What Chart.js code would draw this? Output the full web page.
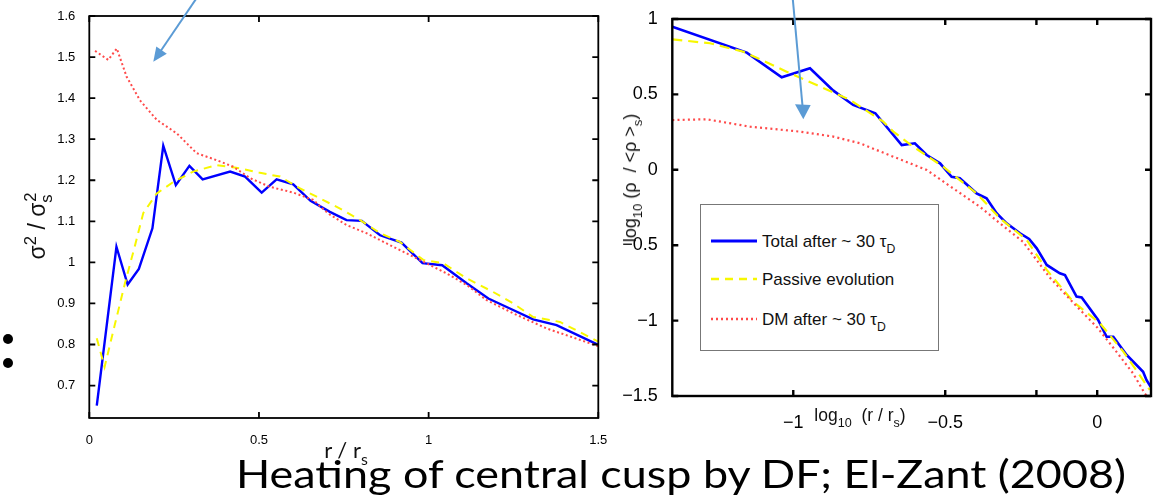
<!DOCTYPE html>
<html>
<head>
<meta charset="utf-8">
<script src="https://cdn.jsdelivr.net/npm/chart.js@4.4.0/dist/chart.umd.min.js"></script>
<style>
  body { margin: 0; width: 1165px; height: 498px; overflow: hidden; position: relative; background: #fff; font-family: "Liberation Sans", Arial, sans-serif; color: #111; }
  canvas { position: absolute; top: 0; }
  .abs { position: absolute; white-space: nowrap; line-height: 1; }
  .sub { font-size: 0.72em; position: relative; top: 0.45em; }
  .sup { font-size: 0.72em; position: relative; top: -0.55em; }
  .rot { transform: translate(-50%, -50%) rotate(-90deg); }
  .ctr { transform: translate(-50%, -50%); }
  #legend { position: absolute; left: 700px; top: 204px; width: 237px; height: 145px; border: 1px solid #777; background: #fff; }
  #legend .row { position: absolute; left: 0; font-size: 17px; line-height: 1; }
  #legend svg { position: absolute; left: 9px; }
  #legend .txt { position: absolute; left: 61px; white-space: nowrap; transform: translateY(-50%); }
  .dot { position: absolute; width: 10px; height: 10px; border-radius: 50%; background: #000; }
  #caption { position: absolute; left: 236px; top: 453px; font-family: Lato, "Noto Sans", sans-serif; font-size: 39.5px; line-height: 1; white-space: nowrap; transform-origin: 0 0; color: #000; }
</style>
</head>
<body>
<canvas id="left-chart" width="615" height="460" style="left:0"></canvas>
<canvas id="right-chart" width="560" height="440" style="left:605px"></canvas>

<div class="abs rot" style="left:37px; top:226px; font-size:23px;">σ<span class="sup">2</span> / σ<span class="sub">s</span><span class="sup" style="margin-left:-0.45em">2</span></div>
<div class="abs ctr" style="left:346px; top:450px; font-family:Lato, sans-serif; font-size:22px;">r / r<span class="sub">s</span></div>
<div class="abs rot" style="left:630px; top:178px; font-size:18px;">log<span class="sub">10</span> (ρ&nbsp; / &lt;ρ &gt;<span class="sub">s</span>)</div>
<div class="abs ctr" style="left:860px; top:416px; font-size:17.5px;">log<span class="sub">10</span>&nbsp; (r / r<span class="sub">s</span>)</div>

<div id="legend"></div>

<div class="dot" style="left:3px; top:334px"></div>
<div class="dot" style="left:3px; top:358px"></div>

<svg width="1165" height="498" style="position:absolute;left:0;top:0;pointer-events:none">
  <line x1="196.7" y1="-2" x2="160" y2="52" stroke="#5b9bd5" stroke-width="2"/>
  <polygon points="153.3,61.7 166.8,53.8 156.3,46.4" fill="#5b9bd5"/>
  <line x1="792.7" y1="-2" x2="802.5" y2="106" stroke="#5b9bd5" stroke-width="2"/>
  <polygon points="803.3,119.3 810.7,105 795,104.3" fill="#5b9bd5"/>
</svg>

<div id="caption">Heating of central cusp by DF; El-Zant (2008)</div>

<script>
// left panel: velocity dispersion profile
const leftXTicks = [0, 0.5, 1, 1.5];
const leftYTicks = [0.7, 0.8, 0.9, 1, 1.1, 1.2, 1.3, 1.4, 1.5, 1.6];

const leftTotalR = [0.022, 0.080, 0.113, 0.146, 0.186, 0.218, 0.255, 0.295, 0.334, 0.415, 0.459, 0.508, 0.552, 0.601, 0.652, 0.709, 0.758, 0.803, 0.857, 0.920, 0.982, 1.040, 1.112, 1.176, 1.249, 1.308, 1.377, 1.5];
const leftTotalSig = [0.651, 1.038, 0.946, 0.984, 1.083, 1.284, 1.188, 1.235, 1.202, 1.221, 1.209, 1.170, 1.202, 1.190, 1.150, 1.123, 1.103, 1.101, 1.066, 1.048, 0.998, 0.993, 0.949, 0.912, 0.884, 0.861, 0.847, 0.799];

const leftPassiveR = [0.022, 0.045, 0.076, 0.105, 0.135, 0.159, 0.199, 0.248, 0.306, 0.375, 0.444, 0.503, 0.562, 0.621, 0.670, 0.748, 0.798, 0.857, 0.915, 0.984, 1.043, 1.112, 1.190, 1.249, 1.308, 1.387, 1.5];
const leftPassiveSig = [0.815, 0.745, 0.851, 0.949, 1.042, 1.120, 1.168, 1.196, 1.221, 1.237, 1.229, 1.218, 1.209, 1.180, 1.160, 1.127, 1.103, 1.071, 1.050, 1.006, 0.998, 0.961, 0.928, 0.900, 0.867, 0.855, 0.807];

const leftDmR = [0.017, 0.056, 0.081, 0.110, 0.149, 0.199, 0.258, 0.316, 0.375, 0.424, 0.474, 0.532, 0.601, 0.660, 0.704, 0.758, 0.817, 0.886, 0.974, 1.053, 1.112, 1.171, 1.249, 1.348, 1.5];
const leftDmSig = [1.515, 1.493, 1.521, 1.452, 1.395, 1.347, 1.314, 1.266, 1.249, 1.233, 1.205, 1.184, 1.170, 1.152, 1.119, 1.091, 1.071, 1.042, 1.006, 0.973, 0.945, 0.908, 0.876, 0.839, 0.796];

// right panel: density profile
const rightXTicks = [-1, -0.5, -0.2, 0];
const rightXTickLabels = ['−1', '−0.5', '', '0'];
const rightYTicks = [-1.5, -1, -0.5, 0, 0.5, 1];
const rightYTickLabels = ['−1.5', '−1', '−0.5', '0', '0.5', '1'];

const rightTotalR = [-1.398, -1.153, -1.038, -0.945, -0.868, -0.803, -0.730, -0.698, -0.643, -0.600, -0.561, -0.517, -0.479, -0.452, -0.397, -0.364, -0.331, -0.298, -0.254, -0.224, -0.199, -0.166, -0.123, -0.106, -0.068, -0.051, 0.003, 0.031, 0.053, 0.097, 0.151, 0.162, 0.179];
const rightTotalRho = [0.949, 0.777, 0.613, 0.673, 0.525, 0.430, 0.375, 0.297, 0.164, 0.176, 0.098, 0.043, -0.046, -0.056, -0.156, -0.189, -0.288, -0.355, -0.421, -0.458, -0.521, -0.631, -0.686, -0.698, -0.841, -0.846, -0.996, -1.107, -1.107, -1.228, -1.339, -1.394, -1.449];

const rightPassiveR = [-1.398, -1.274, -1.164, -1.022, -0.923, -0.813, -0.704, -0.671, -0.605, -0.507, -0.397, -0.320, -0.232, -0.166, -0.079, 0.009, 0.086, 0.151, 0.173];
const rightPassiveRho = [0.865, 0.839, 0.783, 0.651, 0.562, 0.463, 0.319, 0.253, 0.153, 0.021, -0.156, -0.322, -0.465, -0.664, -0.875, -1.018, -1.206, -1.394, -1.460];

const rightDmR = [-1.398, -1.285, -1.142, -0.978, -0.868, -0.781, -0.671, -0.561, -0.474, -0.386, -0.320, -0.243, -0.156, -0.068, 0.0, 0.053, 0.118, 0.157, 0.180];
const rightDmRho = [0.330, 0.335, 0.286, 0.253, 0.220, 0.176, 0.087, -0.001, -0.123, -0.245, -0.355, -0.480, -0.715, -0.905, -1.045, -1.180, -1.350, -1.485, -1.540];

const seriesNames = ['Total after ~ 30 τ', 'Passive evolution', 'DM after ~ 30 τ'];
const seriesSubs = ['D', '', 'D'];
const blue = '#0000ff', yellow = '#f7f700', red = '#ff4a4a';

function points(xs, ys) {
    return xs.map((x, i) => ({ x: x, y: ys[i] }));
}

function lineSet(label, xs, ys, color, dash, width) {
    return {
        label: label,
        data: points(xs, ys),
        borderColor: color,
        borderDash: dash,
        borderWidth: width,
        pointRadius: 0,
        fill: false,
        tension: 0
    };
}

// box round the plot plus inward ticks on all four sides, matlab style
const framePlugin = {
    id: 'frame',
    afterDraw(chart, args, opts) {
        const ctx = chart.ctx;
        const a = chart.chartArea;
        const xs = chart.scales.x, ys = chart.scales.y;
        ctx.save();
        ctx.strokeStyle = '#000';
        ctx.lineWidth = opts.width;
        ctx.beginPath();
        xs.ticks.forEach(t => {
            const px = xs.getPixelForValue(t.value);
            ctx.moveTo(px, a.bottom); ctx.lineTo(px, a.bottom - opts.len);
            ctx.moveTo(px, a.top); ctx.lineTo(px, a.top + opts.len);
        });
        ys.ticks.forEach(t => {
            const py = ys.getPixelForValue(t.value);
            ctx.moveTo(a.left, py); ctx.lineTo(a.left + opts.len, py);
            ctx.moveTo(a.right, py); ctx.lineTo(a.right - opts.len, py);
        });
        ctx.stroke();
        ctx.strokeRect(a.left, a.top, a.right - a.left, a.bottom - a.top);
        ctx.restore();
    }
};

function axis(min, max, tickValues, labels, fontSize, pad, size, isX) {
    return {
        type: 'linear',
        min: min,
        max: max,
        grid: { display: false },
        border: { display: false },
        afterBuildTicks: s => { s.ticks = tickValues.map(v => ({ value: v })); },
        afterFit: s => { if (isX) s.height = size; else s.width = size; },
        ticks: {
            autoSkip: false,
            maxRotation: 0,
            padding: pad,
            color: '#000',
            font: { family: 'Liberation Sans', size: fontSize },
            callback: (v, i) => labels ? labels[i] : String(v)
        }
    };
}

Chart.defaults.animation = false;

new Chart(document.getElementById('left-chart'), {
    type: 'line',
    data: {
        datasets: [
            lineSet('DM', leftDmR, leftDmSig, red, [2, 2.6], 2),
            lineSet('Passive', leftPassiveR, leftPassiveSig, yellow, [8, 6], 2),
            lineSet('Total', leftTotalR, leftTotalSig, blue, [], 2.4)
        ]
    },
    options: {
        responsive: false,
        devicePixelRatio: 1,
        layout: { padding: { top: 16, right: 16.7, bottom: 0, left: 0 } },
        plugins: { legend: { display: false }, tooltip: { enabled: false }, frame: { width: 1.8, len: 6 } },
        scales: {
            x: axis(0, 1.5, leftXTicks, null, 13, 7, 42, true),
            y: axis(0.621, 1.6, leftYTicks, null, 13, 6, 89.3, false)
        }
    },
    plugins: [framePlugin]
});

new Chart(document.getElementById('right-chart'), {
    type: 'line',
    data: {
        datasets: [
            lineSet('DM', rightDmR, rightDmRho, red, [2, 3.2], 2.2),
            lineSet('Passive', rightPassiveR, rightPassiveRho, yellow, [10, 6], 2.2),
            lineSet('Total', rightTotalR, rightTotalRho, blue, [], 2.6)
        ]
    },
    options: {
        responsive: false,
        devicePixelRatio: 1,
        layout: { padding: { top: 19, right: 14, bottom: 0, left: 0 } },
        plugins: { legend: { display: false }, tooltip: { enabled: false }, frame: { width: 2.4, len: 6 } },
        scales: {
            x: axis(-1.398, 0.177, rightXTicks, rightXTickLabels, 18, 8, 44, true),
            y: axis(-1.5, 1, rightYTicks, rightYTickLabels, 18, 6.5, 67.3, false)
        }
    },
    plugins: [framePlugin]
});

// legend for the right panel
const legend = document.getElementById('legend');
const rowY = [36, 74, 114];
const rowStyle = [
    { color: blue, dash: '', width: 3 },
    { color: yellow, dash: '8 6', width: 2.5 },
    { color: red, dash: '2 3', width: 2.5 }
];
seriesNames.forEach((name, i) => {
    const row = document.createElement('div');
    row.className = 'row';
    row.style.top = rowY[i] + 'px';
    const st = rowStyle[i];
    row.innerHTML =
        '<svg width="48" height="6" style="top:-3px"><line x1="1" y1="3" x2="47" y2="3" stroke="' + st.color +
        '" stroke-width="' + st.width + '" stroke-dasharray="' + st.dash + '"/></svg>' +
        '<span class="txt">' + name + (seriesSubs[i] ? '<span class="sub">' + seriesSubs[i] + '</span>' : '') + '</span>';
    legend.appendChild(row);
});

// stretch the caption to the width it has on the slide
const caption = document.getElementById('caption');
const capWidth = caption.getBoundingClientRect().width;
caption.style.transform = 'scaleX(' + (890 / capWidth) + ')';
</script>
</body>
</html>
